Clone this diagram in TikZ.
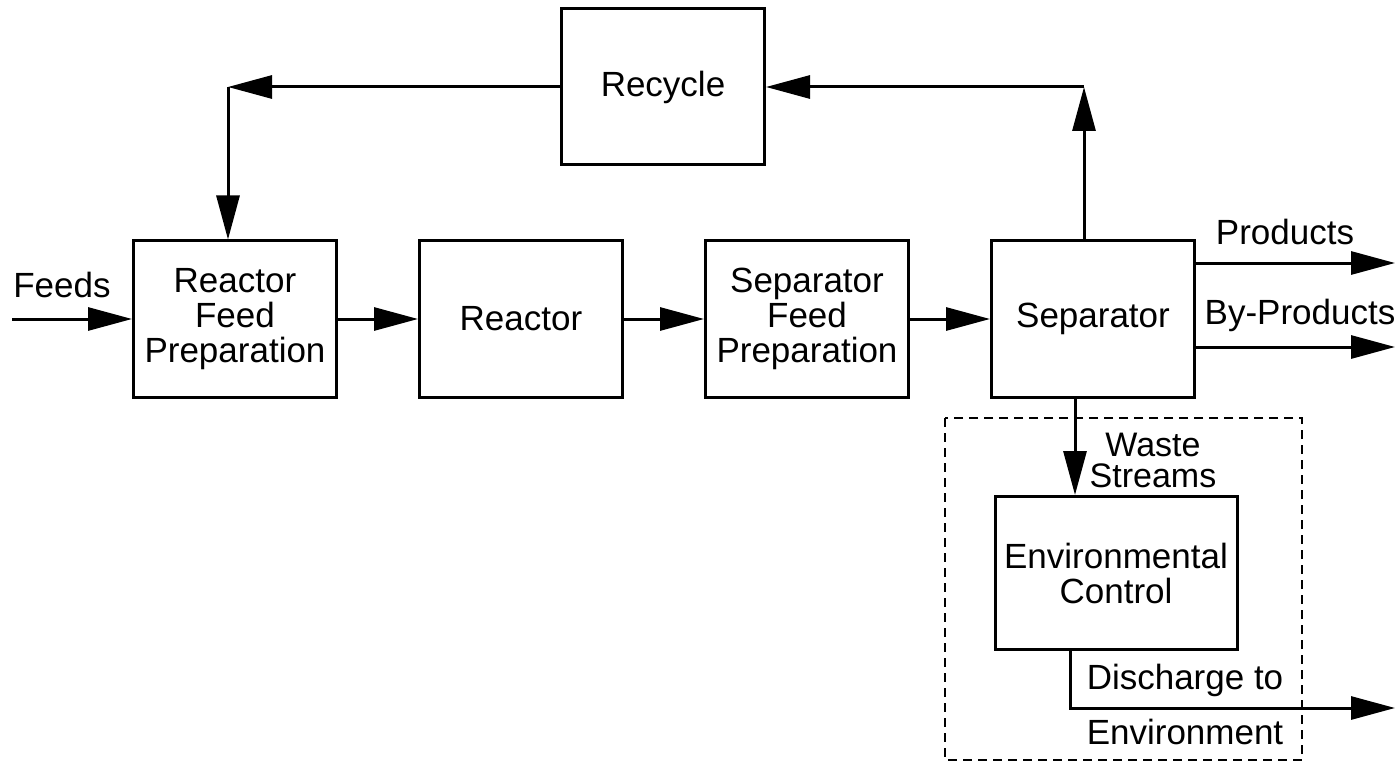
\documentclass[tikz,border=0pt]{standalone}
\usepackage{fontspec}
\setmainfont{Liberation Sans}
\usepackage{tikz}
\usetikzlibrary{positioning}
\usetikzlibrary{arrows.meta}
\newcommand{\diagfont}{\fontsize{35}{35}\selectfont}
\tikzset {
  node distance={80pt},
  % process unit boxes
  block/.style = {draw, line width=3pt, minimum width=203pt, minimum height=156pt, align=center, font=\diagfont},
  % stream names
  tag/.style = {align=center, font=\diagfont},
  % material streams
  flow/.style={line width=3pt, -{Triangle[length=44pt,width=23pt]}},
  % boundary of the control unit
  fence/.style={line width=2.2pt, dash pattern=on 9pt off 6pt},
}
\begin{document}
\begin{tikzpicture}[x=1pt, y=-1pt]
        \useasboundingbox (0,0) rectangle (1395,762);

        \node[block] (rfp) at (235,319) {Reactor\\Feed\\Preparation};
        \node[block] (reactor) [right=of rfp] {Reactor};
        \node[block] (sfp) [right=of reactor] {Separator\\Feed\\Preparation};
        \node[block] (sep) [right=of sfp] {Separator};
        \node[block] (recycle) at (663,87) {Recycle};
        \node[block, minimum width=242pt, minimum height=153pt] (env) at (1116,573) {Environmental\\Control};

        \node[tag] (feeds) at (62,285) {Feeds};
        \node[tag] (prod) at (1285,232) {Products};
        \node[tag] (byprod) at (1300,315) {By-Products};
        \node[tag, font=\fontsize{34}{31}\selectfont] (waste) at (1153,460) {Waste\\Streams};
        \node[tag] (disch) at (1185,680) {Discharge to};
        \node[tag] (envt) at (1185,732) {Environment};

        \coordinate (in) at (12,319);
        \coordinate (up) at (1084,87);
        \coordinate (down) at (228,87);
        \coordinate (prodout) at (1395,263);
        \coordinate (byout) at (1395,347);
        \coordinate (out) at (1395,708);

        \draw [flow] (in) -- (rfp.west);
        \draw [flow] (rfp) -- (reactor);
        \draw [flow] (reactor) -- (sfp);
        \draw [flow] (sfp) -- (sep);
        \draw [flow] (sep.north -| up) -- (up);
        \draw [flow] (up) -- (recycle.east);
        \draw [flow] (recycle.west) -- (down);
        \draw [flow] (down) -- (down |- rfp.north);
        \draw [flow] (sep.east |- prodout) -- (prodout);
        \draw [flow] (sep.east |- byout) -- (byout);
        \draw [flow] ([xshift=-18pt]sep.south) -- ([xshift=-18pt]sep.south |- env.north);
        \draw [flow] ([xshift=-46pt]env.south) |- (out);

        \draw [fence] (945,418) rectangle (1302,760);
      \end{tikzpicture}
\end{document}
